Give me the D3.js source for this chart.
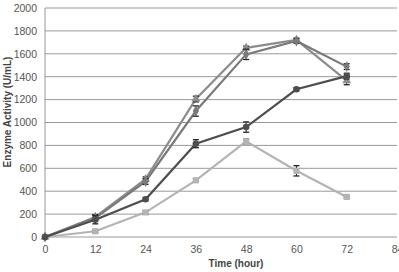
<!DOCTYPE html>
<html><head><meta charset="utf-8">
<script src="https://cdn.jsdelivr.net/npm/d3@7"></script>
<style>body{margin:0;background:#fff}svg{display:block}text{font-family:"Liberation Sans","DejaVu Sans",sans-serif}</style>
</head><body><svg id="c" width="399" height="272"></svg>
<script>
const hours = [0, 12, 24, 36, 48, 60, 72];
const xTicks = [0, 12, 24, 36, 48, 60, 72, 84];
const yTicks = [0, 200, 400, 600, 800, 1000, 1200, 1400, 1600, 1800, 2000];
const seriesA = [0, 50, 215, 495, 835, 578, 350];      // light gray squares
const seriesB = [0, 150, 330, 815, 960, 1290, 1405];   // dark gray circles
const seriesC = [0, 165, 485, 1100, 1595, 1712, 1488]; // gray diamonds
const seriesD = [0, 175, 505, 1205, 1652, 1722, 1365]; // gray triangles
const errA = [0, 10, 15, 15, 20, 45, 10];
const errB = [0, 35, 15, 35, 45, 15, 25];
const errC = [0, 25, 25, 45, 45, 20, 25];
const errD = [0, 20, 20, 25, 15, 15, 35];

const svg = d3.select("#c");
const x = d3.scaleLinear().domain([0, 84]).range([45, 397]);
const y = d3.scaleLinear().domain([0, 2000]).range([237, 8]);

// gridlines
svg.append("g").selectAll("line").data(yTicks).join("line")
  .attr("x1", 45).attr("x2", 397).attr("y1", d => y(d)).attr("y2", d => y(d))
  .attr("stroke", "#999").attr("stroke-width", 1);
svg.append("line").attr("x1", 45).attr("x2", 45).attr("y1", y(0)).attr("y2", y(2000))
  .attr("stroke", "#999");

// y axis labels
const yAxis = d3.axisLeft(y).tickValues(yTicks).tickFormat(d3.format("d")).tickSize(0).tickPadding(8);
const gy = svg.append("g").attr("transform", "translate(45,0)").call(yAxis);
gy.select(".domain").remove();
gy.selectAll("text").attr("font-size", 10.5).attr("fill", "#555");

const xAxis = d3.axisBottom(x).tickValues(xTicks).tickFormat(d3.format("d")).tickSize(0).tickPadding(9);
const gx = svg.append("g").attr("transform", `translate(0,${y(0)})`).call(xAxis);
gx.select(".domain").remove();
gx.selectAll("text").attr("font-size", 10.5).attr("fill", "#555");

svg.append("text").attr("x", 236).attr("y", 267).attr("text-anchor", "middle")
  .attr("font-size", 10).attr("font-weight", "bold").attr("fill", "#444").text("Time (hour)");
svg.append("text").attr("transform", "translate(11,112) rotate(-90)").attr("text-anchor", "middle")
  .attr("font-size", 10).attr("font-weight", "bold").attr("fill", "#444").text("Enzyme Activity (U/mL)");

const series = [
  {v: seriesA, e: errA, color: "#b4b4b4", shape: d3.symbolSquare, size: 38},
  {v: seriesD, e: errD, color: "#8c8c8c", shape: d3.symbolTriangle, size: 34},
  {v: seriesC, e: errC, color: "#7a7a7a", shape: d3.symbolDiamond, size: 34},
  {v: seriesB, e: errB, color: "#4e4e4e", shape: d3.symbolCircle, size: 34},
];
const line = d3.line().x((d, i) => x(hours[i])).y(d => y(d));
series.forEach(s => {
  svg.append("path").datum(s.v).attr("d", line).attr("fill", "none")
    .attr("stroke", s.color).attr("stroke-width", 2.2);
  const g = svg.append("g");
  s.v.forEach((v, i) => {
    const e = s.e[i];
    if (e > 0) {
      const cx = x(hours[i]);
      g.append("line").attr("x1", cx).attr("x2", cx).attr("y1", y(v - e)).attr("y2", y(v + e)).attr("stroke", "#222").attr("stroke-width", 1);
      [v - e, v + e].forEach(t => g.append("line").attr("x1", cx - 3).attr("x2", cx + 3).attr("y1", y(t)).attr("y2", y(t)).attr("stroke", "#222").attr("stroke-width", 1.3));
    }
    g.append("path").attr("d", d3.symbol().type(s.shape).size(s.size)())
      .attr("transform", `translate(${x(hours[i])},${y(v)})`).attr("fill", s.color);
  });
});
</script></body></html>
